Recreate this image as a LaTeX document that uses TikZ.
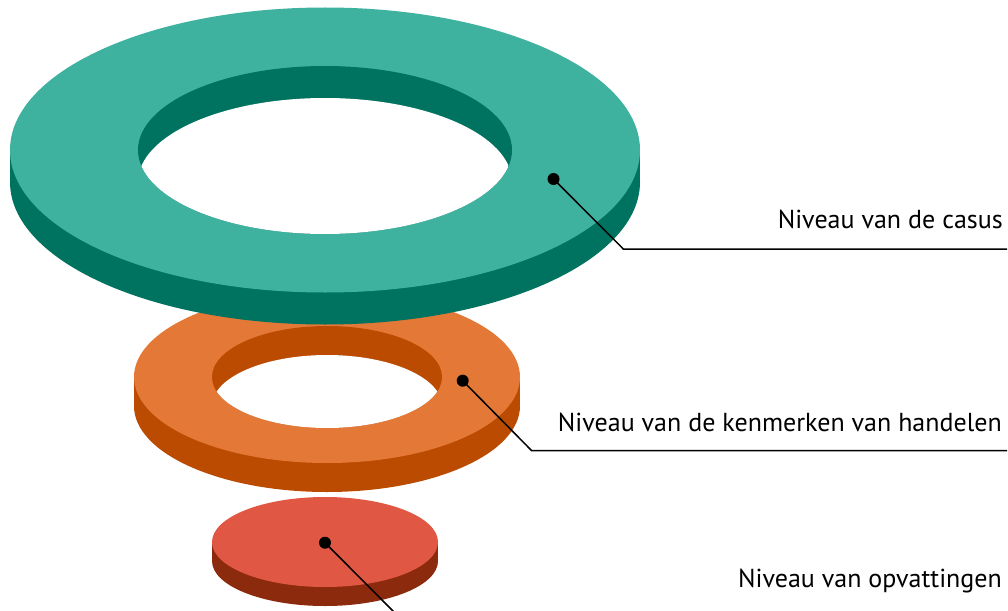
\documentclass[tikz,border=0pt]{standalone}
\usepackage{fontspec}
\setmainfont{PT Sans}
\definecolor{gtop}{RGB}{62,177,159}
\definecolor{gside}{RGB}{0,114,96}
\definecolor{otop}{RGB}{228,120,54}
\definecolor{oside}{RGB}{186,75,0}
\definecolor{rtop}{RGB}{224,88,67}
\definecolor{rside}{RGB}{139,42,12}
\definecolor{leadgray}{RGB}{40,40,40}
\tikzset{
  dotnode/.style={circle,fill=black,inner sep=0pt,minimum size=12pt},
  leader/.style={line width=1.5pt,draw=black},
  lbl/.style={anchor=base east,inner sep=0pt,font=\fontsize{26}{31}\selectfont,text=black}
}
\begin{document}
\begin{tikzpicture}[x=1pt,y=-1pt]
\useasboundingbox (0,0) rectangle (1008,610);
\clip (0,0) rectangle (1008,610);
% red disc
\fill[rside] (325,561) ellipse [x radius=113pt,y radius=45pt];
\fill[rside] (212,542) rectangle (438,561);
\fill[rtop] (325,542) ellipse [x radius=113pt,y radius=45pt];
% orange ring
\fill[oside] (327,406) ellipse [x radius=193pt,y radius=86pt];
\fill[oside] (134,377) rectangle (520,406);
\fill[otop] (327,377) ellipse [x radius=193pt,y radius=86pt];
\fill[oside] (327,377) ellipse [x radius=115pt,y radius=51pt];
\begin{scope}
  \clip (327,377) ellipse [x radius=115pt,y radius=51pt];
  \fill[white] (327,406) ellipse [x radius=115pt,y radius=51pt];
\end{scope}
% green ring
\fill[gside] (325,182) ellipse [x radius=315pt,y radius=142.5pt];
\fill[gside] (10,150) rectangle (640,182);
\fill[gtop] (325,150) ellipse [x radius=315pt,y radius=142.5pt];
\fill[gside] (325,150) ellipse [x radius=187pt,y radius=84pt];
\begin{scope}
  \clip (325,150) ellipse [x radius=187pt,y radius=84pt];
  \fill[white] (325,182) ellipse [x radius=187pt,y radius=84pt];
\end{scope}
% dots and leaders
\node[dotnode] (d1) at (553.5,179) {};
\node[dotnode] (d2) at (462.7,380.7) {};
\node[dotnode] (d3) at (325,542.7) {};
\coordinate (c1) at (623.3,249);
\coordinate (e1) at (1007,249);
\coordinate (c2) at (531.7,450.7);
\coordinate (e2) at (1007,450.7);
\coordinate (c3) at (394,612);
\coordinate (e3) at (1007,612);
\draw[leader] (d1.center) -- (c1) -- (e1);
\draw[leader] (d2.center) -- (c2) -- (e2);
\draw[leader] (d3.center) -- (c3) -- (e3);
\node[lbl] (t1) at (1003,228.3) {Niveau van de casus};
\node[lbl] (t2) at (1002,431.7) {Niveau van de kenmerken van handelen};
\node[lbl] (t3) at (1002,587.3) {Niveau van opvattingen};
\end{tikzpicture}
\end{document}
